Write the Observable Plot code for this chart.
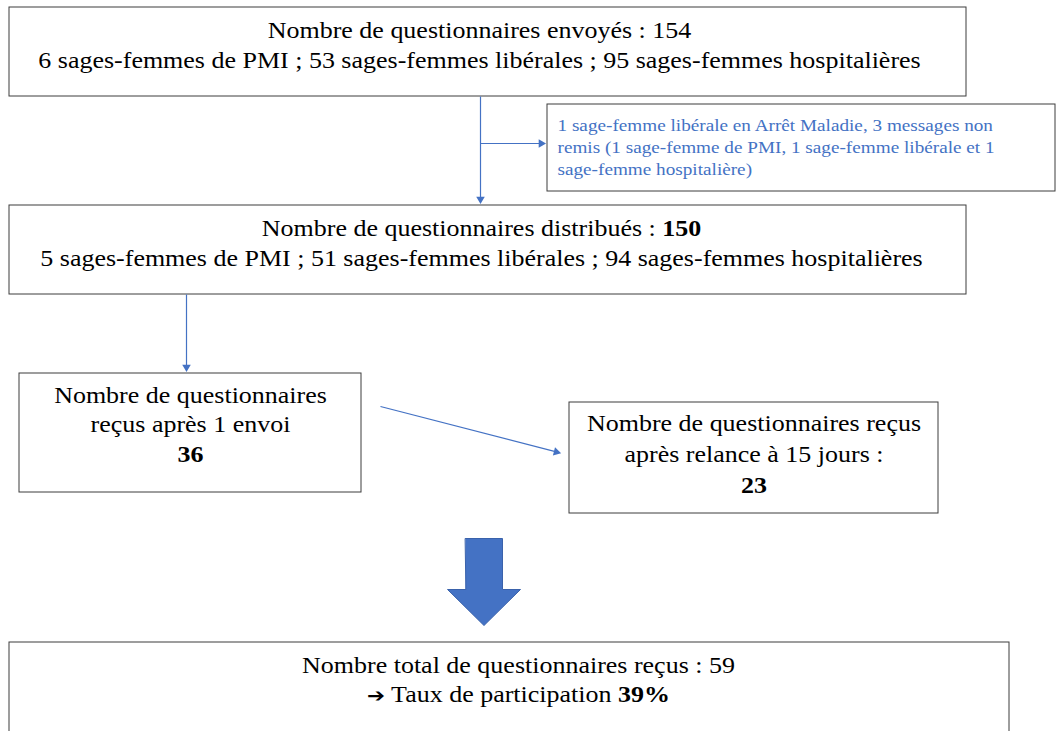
<!DOCTYPE html>
<html><head><meta charset="utf-8">
<script src="https://cdn.jsdelivr.net/npm/d3@7"></script>
<script src="https://cdn.jsdelivr.net/npm/@observablehq/plot@0.6"></script>
<style>
html,body{margin:0;padding:0;background:#fff;}
#chart{width:1057px;height:731px;overflow:hidden;}
</style>
</head><body><div id="chart"></div>
<script>
// ---- Content (text labels; ** marks bold) ----
const boxIds = ["envoyes", "exclus", "distribues", "recus1", "relance", "total"];
const boxLabels = [
  "Nombre de questionnaires envoyés : 154\n6 sages-femmes de PMI ; 53 sages-femmes libérales ; 95 sages-femmes hospitalières",
  "1 sage-femme libérale en Arrêt Maladie, 3 messages non\nremis (1 sage-femme de PMI, 1 sage-femme libérale et 1\nsage-femme hospitalière)",
  "Nombre de questionnaires distribués : **150**\n5 sages-femmes de PMI ; 51 sages-femmes libérales ; 94 sages-femmes hospitalières",
  "Nombre de questionnaires\nreçus après 1 envoi\n**36**",
  "Nombre de questionnaires reçus\naprès relance à 15 jours :\n**23**",
  "Nombre total de questionnaires reçus : 59\n**➔** Taux de participation **39%**"
];
// Values shown in the boxes
const envoyes = [6, 53, 95];      // PMI, libérales, hospitalières -> 154
const distribues = [5, 51, 94];   // -> 150
const recus = [36, 23];           // -> 59
const participation = 39;

// ---- Layout (pixel frame of the diagram) ----
const boxFrames = [
  [9, 7, 966, 96],
  [547, 104, 1055, 191],
  [9, 205, 966, 294],
  [19, 373, 361, 492],
  [569, 402, 938, 513],
  [9, 642, 1009, 745]
];
// text anchor inside each box
const textAnchors = [
  [479, 43], [557, 145], [481, 241], [190, 422.5], [753.5, 452], [518, 677.5]
];
const links = [
  {from: [480, 96], to: [480, 205]},
  {from: [480, 143], to: [547, 143]},
  {from: [186, 294], to: [186, 373]},
  {from: [380, 406], to: [562, 453]}
];
const blockArrow = {cx: 483.5, top: 538, neck: 589, tip: 625, shaft: 37, head: 73};

const BLUE = "#4472C4";
const FONT = "'Liberation Serif', 'Times New Roman', serif";
const STRETCH = 1.13; // the reference glyphs are slightly wide

const boxes = boxIds.map((id, i) => {
  const [x1, y1, x2, y2] = boxFrames[i];
  return {id, label: boxLabels[i], x1, y1, x2, y2, tx: textAnchors[i][0], ty: textAnchors[i][1]};
});
const mainBoxes = boxes.filter(b => b.id !== "exclus");
const sideBox = boxes.filter(b => b.id === "exclus");

// arrow heads as rotated triangles
const headSide = 11;
const headH = headSide * Math.sqrt(3) / 2;
const linkData = links.map(l => {
  const dx = l.to[0] - l.from[0], dy = l.to[1] - l.from[1];
  const len = Math.hypot(dx, dy), ux = dx / len, uy = dy / len;
  const back = headH * 2 / 3;
  return {
    x1: l.from[0], y1: l.from[1],
    x2: l.to[0] - ux * back, y2: l.to[1] - uy * back,
    hx: l.to[0] - ux * back, hy: l.to[1] - uy * back,
    rot: Math.atan2(dy, dx) * 180 / Math.PI + 90
  };
});
const triR = Math.sqrt((Math.sqrt(3) / 4 * headSide * headSide) / Math.PI);

const b = blockArrow;
const blockPoly = [
  [b.cx - b.shaft / 2, b.top], [b.cx + b.shaft / 2, b.top], [b.cx + b.shaft / 2, b.neck],
  [b.cx + b.head / 2, b.neck], [b.cx, b.tip], [b.cx - b.head / 2, b.neck], [b.cx - b.shaft / 2, b.neck]
].map(([x, y]) => ({x, y}));

const plot = Plot.plot({
  width: 1057, height: 731,
  margin: 0,
  x: {domain: [0, 1057], range: [0, 1057], axis: null},
  y: {domain: [0, 731], range: [0, 731], axis: null},
  style: {background: "#fff", fontFamily: FONT},
  marks: [
    Plot.rect(boxes, {x1: "x1", y1: "y1", x2: "x2", y2: "y2", fill: "#fff", stroke: "#3c3c3c", strokeWidth: 1}),
    Plot.link(linkData, {x1: "x1", y1: "y1", x2: "x2", y2: "y2", stroke: BLUE, strokeWidth: 1.2}),
    Plot.dot(linkData, {x: "hx", y: "hy", symbol: "triangle2", r: triR, rotate: "rot", fill: BLUE, stroke: "none"}),
    Plot.line(blockPoly, {x: "x", y: "y", curve: "linear-closed", fill: BLUE, stroke: "#3A62AB", strokeWidth: 1}),
    Plot.text(mainBoxes.filter(d => d.id !== "relance"), {
      x: "tx", y: "ty", text: "label",
      fontSize: 23, lineHeight: 29.5 / 23, fill: "#000", fontFamily: FONT, className: "stretch"
    }),
    Plot.text(mainBoxes.filter(d => d.id === "relance"), {
      x: "tx", y: "ty", text: "label",
      fontSize: 23, lineHeight: 31 / 23, fill: "#000", fontFamily: FONT, className: "stretch"
    }),
    Plot.text(sideBox, {
      x: "tx", y: "ty", text: "label", textAnchor: "start",
      fontSize: 17, lineHeight: 22 / 17, fill: BLUE, fontFamily: FONT, className: "stretch"
    })
  ]
});

// apply bold segments marked by **
plot.querySelectorAll("text, tspan").forEach(el => {
  if (el.children.length) return;
  const t = el.textContent;
  if (!t.includes("**")) return;
  el.textContent = "";
  t.split("**").forEach((part, i) => {
    if (!part) return;
    const s = document.createElementNS("http://www.w3.org/2000/svg", "tspan");
    if (i % 2 === 1) s.setAttribute("font-weight", "bold");
    if (part === "➔") { s.setAttribute("font-family", "'DejaVu Sans', sans-serif"); s.setAttribute("font-size", "19"); }
    s.textContent = part;
    el.appendChild(s);
  });
});

// widen glyphs horizontally around each text anchor
plot.querySelectorAll(".stretch text").forEach(el => {
  const tr = el.getAttribute("transform");
  if (tr) {
    el.setAttribute("transform", tr + ` scale(${STRETCH},1)`);
  } else {
    const x = +el.getAttribute("x") || 0, y = +el.getAttribute("y") || 0;
    el.setAttribute("transform", `translate(${x},${y}) scale(${STRETCH},1) translate(${-x},${-y})`);
  }
});

document.getElementById("chart").appendChild(plot);
</script>
</body></html>
